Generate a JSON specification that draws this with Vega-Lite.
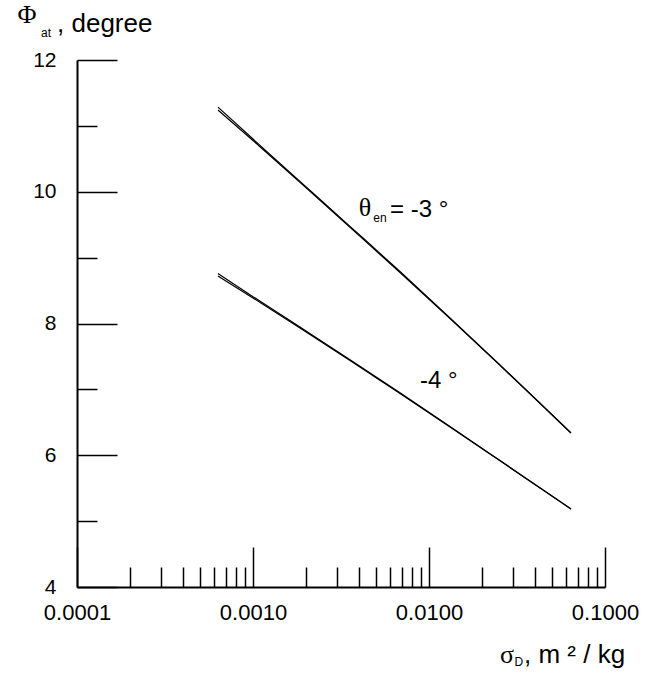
{
  "$schema": "https://vega.github.io/schema/vega-lite/v6.json",
  "width": 528,
  "height": 527,
  "autosize": {"type": "none"},
  "padding": {"left": 77, "top": 60, "right": 51, "bottom": 90},
  "background": "white",
  "config": {"view": {"stroke": null}},
  "datasets": {
    "curves": [
      {"sigma": 0.000632, "phi": 11.241, "series": "-3a"},
      {"sigma": 0.001, "phi": 10.778, "series": "-3a"},
      {"sigma": 0.001849, "phi": 10.143, "series": "-3a"},
      {"sigma": 0.003557, "phi": 9.46, "series": "-3a"},
      {"sigma": 0.006843, "phi": 8.774, "series": "-3a"},
      {"sigma": 0.01316, "phi": 8.076, "series": "-3a"},
      {"sigma": 0.02532, "phi": 7.365, "series": "-3a"},
      {"sigma": 0.04272, "phi": 6.789, "series": "-3a"},
      {"sigma": 0.06409, "phi": 6.338, "series": "-3a"},
      {"sigma": 0.000632, "phi": 11.285, "series": "-3b"},
      {"sigma": 0.001, "phi": 10.8, "series": "-3b"},
      {"sigma": 0.001849, "phi": 10.158, "series": "-3b"},
      {"sigma": 0.003557, "phi": 9.475, "series": "-3b"},
      {"sigma": 0.006843, "phi": 8.789, "series": "-3b"},
      {"sigma": 0.01316, "phi": 8.086, "series": "-3b"},
      {"sigma": 0.02532, "phi": 7.37, "series": "-3b"},
      {"sigma": 0.04272, "phi": 6.79, "series": "-3b"},
      {"sigma": 0.06409, "phi": 6.338, "series": "-3b"},
      {"sigma": 0.000632, "phi": 8.721, "series": "-4a"},
      {"sigma": 0.001, "phi": 8.387, "series": "-4a"},
      {"sigma": 0.001849, "phi": 7.932, "series": "-4a"},
      {"sigma": 0.003557, "phi": 7.438, "series": "-4a"},
      {"sigma": 0.006843, "phi": 6.937, "series": "-4a"},
      {"sigma": 0.01316, "phi": 6.429, "series": "-4a"},
      {"sigma": 0.02532, "phi": 5.916, "series": "-4a"},
      {"sigma": 0.04272, "phi": 5.503, "series": "-4a"},
      {"sigma": 0.06409, "phi": 5.183, "series": "-4a"},
      {"sigma": 0.000632, "phi": 8.76, "series": "-4b"},
      {"sigma": 0.001, "phi": 8.407, "series": "-4b"},
      {"sigma": 0.001849, "phi": 7.945, "series": "-4b"},
      {"sigma": 0.003557, "phi": 7.45, "series": "-4b"},
      {"sigma": 0.006843, "phi": 6.947, "series": "-4b"},
      {"sigma": 0.01316, "phi": 6.437, "series": "-4b"},
      {"sigma": 0.02532, "phi": 5.92, "series": "-4b"},
      {"sigma": 0.04272, "phi": 5.505, "series": "-4b"},
      {"sigma": 0.06409, "phi": 5.183, "series": "-4b"}
    ],
    "greek": [
      {"text": "Φ", "sigma": 0.000052, "phi": 12.683},
      {"text": "θ", "sigma": 0.004325, "phi": 9.753},
      {"text": "σ", "sigma": 0.02773, "phi": 2.968}
    ],
    "titles": [
      {"text": ", degree", "sigma": 0.000077, "phi": 12.425},
      {"text": ", m ² / kg", "sigma": 0.03467, "phi": 2.846}
    ],
    "annotations": [
      {"text": "= -3 °", "sigma": 0.006004, "phi": 9.617},
      {"text": "-4 °", "sigma": 0.008892, "phi": 7.021}
    ],
    "subscripts": [
      {"text": "at", "sigma": 0.0000667, "phi": 12.41},
      {"text": "en", "sigma": 0.005268, "phi": 9.601},
      {"text": "D", "sigma": 0.03243, "phi": 2.861}
    ]
  },
  "resolve": {"axis": {"x": "independent", "y": "independent"}},
  "layer": [
    {
      "data": {"name": "curves"},
      "mark": {"type": "line", "color": "black", "strokeWidth": 1.2, "interpolate": "monotone"},
      "encoding": {
        "x": {
          "field": "sigma", "type": "quantitative",
          "scale": {"type": "log", "domain": [0.0001, 0.1], "nice": false},
          "axis": {
            "orient": "bottom",
            "title": null,
            "grid": false,
            "values": [0.0001, 0.001, 0.01, 0.1],
            "format": ".4f",
            "tickSize": -40,
            "tickColor": "black",
            "tickWidth": 1.5,
            "domainColor": "black",
            "domainWidth": 2,
            "labelFont": "Liberation Sans",
            "labelFontSize": 22,
            "labelColor": "black",
            "labelPadding": 55,
            "labelOverlap": false,
            "labelFlush": false,
            "labelBound": false
          }
        },
        "y": {
          "field": "phi", "type": "quantitative",
          "scale": {"domain": [4, 12], "nice": false, "zero": false},
          "axis": {
            "orient": "left",
            "title": null,
            "grid": false,
            "values": [4, 6, 8, 10, 12],
            "format": "d",
            "tickSize": -40,
            "tickColor": "black",
            "tickWidth": 1.5,
            "domainColor": "black",
            "domainWidth": 2,
            "labelFont": "Liberation Sans",
            "labelFontSize": 21,
            "labelColor": "black",
            "labelPadding": 61,
            "labelAlign": "right",
            "labelBaseline": "middle",
            "labelOverlap": false,
            "labelFlush": false,
            "labelBound": false
          }
        },
        "detail": {"field": "series"}
      }
    },
    {
      "data": {"name": "greek"},
      "mark": {"type": "text", "font": "Liberation Serif", "fontSize": 26, "align": "center", "baseline": "middle", "color": "black", "clip": false},
      "encoding": {
        "x": {
          "field": "sigma", "type": "quantitative",
          "axis": {
            "orient": "bottom",
            "title": null,
            "grid": false,
            "values": [0.0002, 0.0003, 0.0004, 0.0005, 0.0006, 0.0007, 0.0008, 0.0009, 0.002, 0.003, 0.004, 0.005, 0.006, 0.007, 0.008, 0.009, 0.02, 0.03, 0.04, 0.05, 0.06, 0.07, 0.08, 0.09],
            "labels": false,
            "domain": false,
            "tickSize": -20,
            "tickColor": "black",
            "tickWidth": 1.5
          }
        },
        "y": {
          "field": "phi", "type": "quantitative",
          "axis": {
            "orient": "left",
            "title": null,
            "grid": false,
            "values": [5, 7, 9, 11],
            "labels": false,
            "domain": false,
            "tickSize": -20,
            "tickColor": "black",
            "tickWidth": 1.5
          }
        },
        "text": {"field": "text"}
      }
    },
    {
      "data": {"name": "titles"},
      "mark": {"type": "text", "font": "Liberation Sans", "fontSize": 26, "align": "left", "baseline": "alphabetic", "color": "black", "clip": false},
      "encoding": {
        "x": {"field": "sigma", "type": "quantitative", "axis": null},
        "y": {"field": "phi", "type": "quantitative", "axis": null},
        "text": {"field": "text"}
      }
    },
    {
      "data": {"name": "annotations"},
      "mark": {"type": "text", "font": "Liberation Sans", "fontSize": 24, "align": "left", "baseline": "alphabetic", "color": "black", "clip": false},
      "encoding": {
        "x": {"field": "sigma", "type": "quantitative", "axis": null},
        "y": {"field": "phi", "type": "quantitative", "axis": null},
        "text": {"field": "text"}
      }
    },
    {
      "data": {"name": "subscripts"},
      "mark": {"type": "text", "font": "Liberation Sans", "fontSize": 12, "align": "center", "baseline": "middle", "color": "black", "clip": false},
      "encoding": {
        "x": {"field": "sigma", "type": "quantitative", "axis": null},
        "y": {"field": "phi", "type": "quantitative", "axis": null},
        "text": {"field": "text"}
      }
    }
  ]
}
